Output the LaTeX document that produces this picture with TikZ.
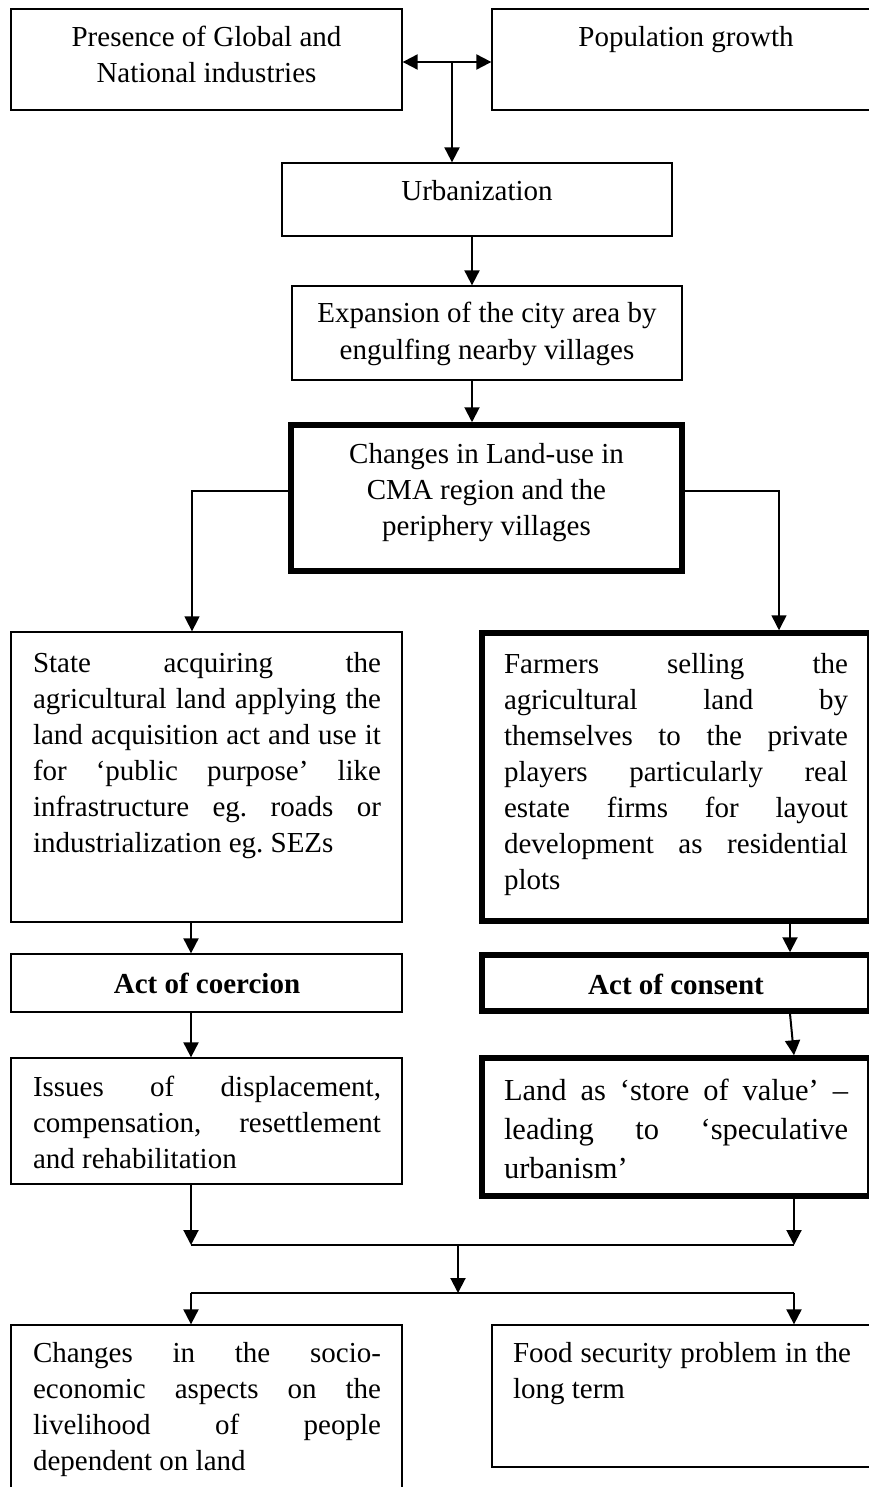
\documentclass[tikz,border=0pt]{standalone}
\usepackage{fontspec}
\setmainfont{Liberation Serif}
\usetikzlibrary{arrows.meta,calc}
\tolerance=10000
\hbadness=10000
\hyphenpenalty=10000
\frenchspacing

\tikzset{
  box/.style={draw=black, line width=1.3pt, rectangle, inner sep=0pt},
  heavybox/.style={draw=black, line width=5.5pt, rectangle, inner sep=0pt},
  txt/.style={inner sep=0pt, outer sep=0pt, font=\fontsize{29}{36}\selectfont},
  tip/.tip={Triangle[length=15pt,width=15pt]},
  link/.style={line width=2pt, -tip},
  twoway/.style={line width=2pt, tip-tip},
  bus/.style={line width=1.6pt},
}

\begin{document}
\begin{tikzpicture}[x=1pt,y=-1pt]
  \useasboundingbox (0,0) rectangle (869,1487);
  \fill[white] (0,0) rectangle (869,1487);
  \clip (0,0) rectangle (869,1487);

  % ---- boxes ----
  \node[box, minimum width=391pt, minimum height=101pt] (presence) at (206.5,59.5) {};
  \node[box, minimum width=388pt, minimum height=101pt] (population) at (686,59.5) {};
  \node[box, minimum width=390pt, minimum height=73pt] (urban) at (477,199.5) {};
  \node[box, minimum width=390pt, minimum height=94pt] (expansion) at (487,333) {};
  \node[heavybox, minimum width=391pt, minimum height=146pt] (landuse) at (486.5,498) {};
  \node[box, minimum width=391pt, minimum height=290pt] (state) at (206.5,777) {};
  \node[heavybox, minimum width=388pt, minimum height=288pt] (farmers) at (676,777) {};
  \node[box, minimum width=391pt, minimum height=58pt] (coercion) at (206.5,983) {};
  \node[heavybox, minimum width=388pt, minimum height=56pt] (consent) at (676,983) {};
  \node[box, minimum width=391pt, minimum height=126pt] (issues) at (206.5,1121) {};
  \node[heavybox, minimum width=388pt, minimum height=138pt] (store) at (676,1127) {};
  \node[box, minimum width=391pt, minimum height=175pt] (socio) at (206.5,1412.5) {};
  \node[box, minimum width=388pt, minimum height=142pt] (food) at (686,1396) {};

  % ---- texts ----
  \node[txt, anchor=base] (presenceT) at (206.5,47)
    {\parbox[t]{380pt}{\centering Presence of Global and\\National industries}};
  \node[txt, anchor=base] (populationT) at (686,47) {Population growth};
  \node[txt, anchor=base] (urbanT) at (477,201) {Urbanization};
  \node[txt, anchor=base] (expansionT) at (487,323)
    {\parbox[t]{380pt}{\centering Expansion of the city area by\\engulfing nearby villages}};
  \node[txt, anchor=base] (landuseT) at (486.5,463)
    {\parbox[t]{380pt}{\centering Changes in Land-use in\\CMA region and the\\periphery villages}};
  \node[txt, anchor=base west] (stateT) at (33,672)
    {\parbox[t]{348pt}{State acquiring the \linebreak agricultural land applying the \linebreak
     land acquisition act and use it \linebreak for ‘public purpose’ like \linebreak
     infrastructure eg. roads or \linebreak industrialization eg. SEZs}};
  \node[txt, anchor=base west] (farmersT) at (504,673)
    {\parbox[t]{344pt}{Farmers selling the \linebreak agricultural land by \linebreak
     themselves to the private \linebreak players particularly real \linebreak
     estate firms for layout \linebreak development as residential \linebreak plots}};
  \node[txt, anchor=base, font=\fontsize{29}{36}\selectfont\bfseries] (coercionT) at (207,993) {Act of coercion};
  \node[txt, anchor=base, font=\fontsize{29}{36}\selectfont\bfseries] (consentT) at (676,994) {Act of consent};
  \node[txt, anchor=base west] (issuesT) at (33,1096)
    {\parbox[t]{348pt}{Issues of displacement, \linebreak compensation, resettlement \linebreak and rehabilitation}};
  \node[txt, anchor=base west, font=\fontsize{30.5}{39}\selectfont] (storeT) at (504,1100)
    {\parbox[t]{344pt}{Land as ‘store of value’ – \linebreak leading to ‘speculative \linebreak urbanism’}};
  \node[txt, anchor=base west] (socioT) at (33,1362)
    {\parbox[t]{348pt}{Changes in the socio-\linebreak economic aspects on the \linebreak
     livelihood of people \linebreak dependent on land}};
  \node[txt, anchor=base west] (foodT) at (513,1362)
    {\parbox[t]{338pt}{Food security problem in the \linebreak long term}};

  % ---- connectors ----
  \coordinate (fork) at (452,62);
  \draw[twoway] (presence.east |- fork) -- (population.west |- fork);
  \draw[link] (fork) -- (fork |- urban.north);

  \coordinate (spine) at (472,0);
  \draw[link] (spine |- urban.south) -- (spine |- expansion.north);
  \draw[link] (spine |- expansion.south) -- (spine |- landuse.north);

  \coordinate (branchL) at (192,491);
  \coordinate (branchR) at (779,491);
  \draw[link, line width=1.5pt] (landuse.west |- branchL) -| (state.north -| branchL);
  \draw[link, line width=1.5pt] (landuse.east |- branchR) -| (farmers.north -| branchR);

  \coordinate (colL) at (191,0);
  \coordinate (colR) at (790,0);
  \coordinate (colRR) at (794,0);
  \draw[link] (colL |- state.south) -- (colL |- coercion.north);
  \draw[link] (colR |- farmers.south) -- (colR |- consent.north);
  \draw[link] (colL |- coercion.south) -- (colL |- issues.north);
  \draw[link] (colR |- consent.south) -- (colRR |- store.north);

  \coordinate (busA) at (458,1245);
  \coordinate (busB) at (458,1293);
  \draw[link] (colL |- issues.south) -- (colL |- busA);
  \draw[link] (colRR |- store.south) -- (colRR |- busA);
  \draw[bus] (colL |- busA) -- (colRR |- busA);
  \draw[link] (busA) -- (busB);
  \draw[bus] (colL |- busB) -- (colRR |- busB);
  \draw[link] (colL |- busB) -- (colL |- socio.north);
  \draw[link] (colRR |- busB) -- (colRR |- food.north);
\end{tikzpicture}
\end{document}
